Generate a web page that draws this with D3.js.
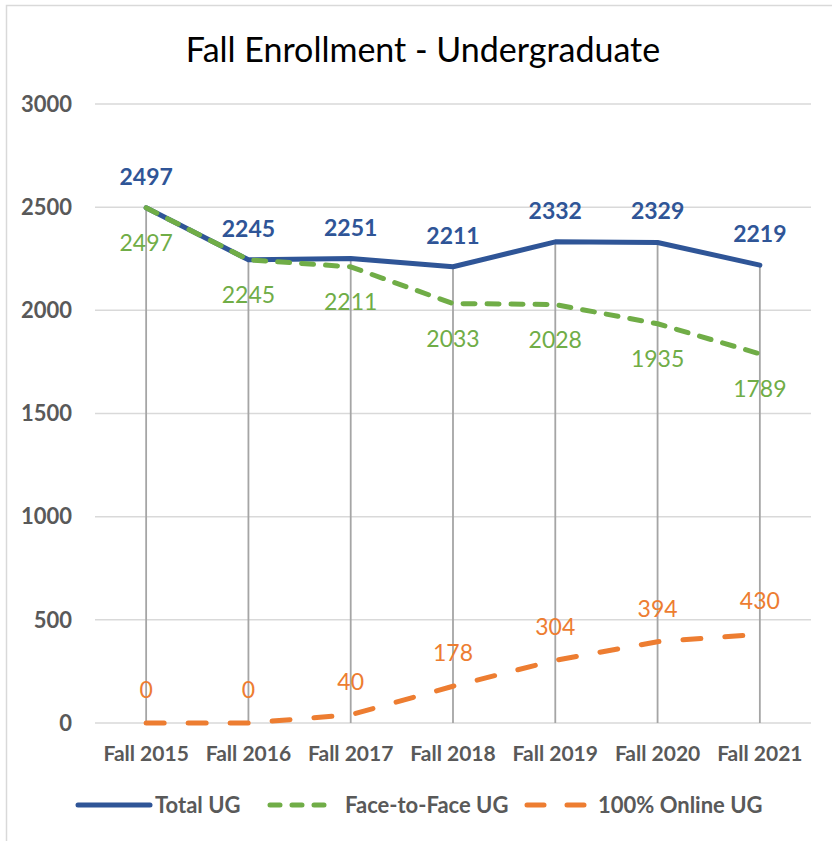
<!DOCTYPE html>
<html>
<head>
<meta charset="utf-8">
<script src="https://cdn.jsdelivr.net/npm/d3@7"></script>
<style>
  body { margin: 0; background: #fff; }
  svg { display: block; font-family: Lato, "Open Sans", sans-serif; }
</style>
</head>
<body>
<div id="chart"></div>
<script>
// chart data
const categories = ["Fall 2015", "Fall 2016", "Fall 2017", "Fall 2018", "Fall 2019", "Fall 2020", "Fall 2021"];
const totalUG = [2497, 2245, 2251, 2211, 2332, 2329, 2219];
const faceToFaceUG = [2497, 2245, 2211, 2033, 2028, 1935, 1789];
const onlineUG = [0, 0, 40, 178, 304, 394, 430];
const yTicks = [0, 500, 1000, 1500, 2000, 2500, 3000];

const width = 832, height = 841;
const svg = d3.select("#chart").append("svg")
    .attr("width", width)
    .attr("height", height);

// chart frame
svg.append("rect")
    .attr("x", 6.5).attr("y", 5.5)
    .attr("width", 840).attr("height", 850)
    .attr("fill", "none")
    .attr("stroke", "#d9d9d9")
    .attr("stroke-width", 1.5);

svg.append("text")
    .attr("x", 423).attr("y", 62)
    .attr("text-anchor", "middle")
    .attr("font-size", 34)
    .attr("fill", "#000")
    .text("Fall Enrollment - Undergraduate");

const x = d3.scalePoint().domain(categories).range([95, 811]).padding(0.5);
const y = d3.scaleLinear().domain([0, 3000]).range([723, 104]);

// gridlines
svg.append("g").selectAll("line")
    .data(yTicks)
    .enter().append("line")
    .attr("x1", 95).attr("x2", 811)
    .attr("y1", d => y(d)).attr("y2", d => y(d))
    .attr("stroke", "#d9d9d9")
    .attr("stroke-width", 1.5);

// y tick labels
svg.append("g").selectAll("text")
    .data(yTicks)
    .enter().append("text")
    .attr("x", 72).attr("y", d => y(d))
    .attr("dy", "0.35em")
    .attr("text-anchor", "end")
    .attr("font-size", 22)
    .attr("font-weight", "bold")
    .attr("fill", "#595959")
    .text(d => d);

// x tick labels
svg.append("g").selectAll("text")
    .data(categories)
    .enter().append("text")
    .attr("x", d => x(d)).attr("y", 761)
    .attr("text-anchor", "middle")
    .attr("font-size", 21)
    .attr("font-weight", "bold")
    .attr("fill", "#595959")
    .text(d => d);

// drop lines
svg.append("g").selectAll("line")
    .data(categories)
    .enter().append("line")
    .attr("x1", d => x(d)).attr("x2", d => x(d))
    .attr("y1", (d, i) => y(totalUG[i])).attr("y2", y(0))
    .attr("stroke", "#a5a5a5")
    .attr("stroke-width", 1.8);

const series = [
    { name: "Total UG", values: totalUG, color: "#2f5597", dash: null, labelDy: -31, bold: true },
    { name: "Face-to-Face UG", values: faceToFaceUG, color: "#70ad47", dash: "12 12", labelDy: 35, bold: false },
    { name: "100% Online UG", values: onlineUG, color: "#ed7d31", dash: "18 24", labelDy: -33, bold: false }
];

const line = d3.line()
    .x((d, i) => x(categories[i]))
    .y(d => y(d));

series.forEach(s => {
    svg.append("path")
        .datum(s.values)
        .attr("d", line)
        .attr("fill", "none")
        .attr("stroke", s.color)
        .attr("stroke-width", 5)
        .attr("stroke-linecap", "round")
        .attr("stroke-linejoin", "round")
        .attr("stroke-dasharray", s.dash);
});

// data labels
series.forEach(s => {
    svg.append("g").selectAll("text")
        .data(s.values)
        .enter().append("text")
        .attr("x", (d, i) => x(categories[i]))
        .attr("y", d => y(d) + s.labelDy)
        .attr("dy", "0.35em")
        .attr("text-anchor", "middle")
        .attr("font-size", 23)
        .attr("font-weight", s.bold ? "bold" : "normal")
        .attr("fill", s.color)
        .text(d => d);
});

// legend
const legendItems = [
    { s: series[0], x1: 78, x2: 150, tx: 155, dash: null },
    { s: series[1], x1: 270, x2: 333, tx: 345, dash: "10 12" },
    { s: series[2], x1: 527, x2: 585, tx: 598, dash: "17 23" }
];
const legend = svg.append("g");
legendItems.forEach(item => {
    legend.append("line")
        .attr("x1", item.x1).attr("x2", item.x2)
        .attr("y1", 805).attr("y2", 805)
        .attr("stroke", item.s.color)
        .attr("stroke-width", 5)
        .attr("stroke-linecap", "round")
        .attr("stroke-dasharray", item.dash);
    legend.append("text")
        .attr("x", item.tx).attr("y", 805)
        .attr("dy", "0.35em")
        .attr("font-size", 22)
        .attr("font-weight", "bold")
        .attr("fill", "#595959")
        .text(item.s.name);
});
</script>
</body>
</html>
